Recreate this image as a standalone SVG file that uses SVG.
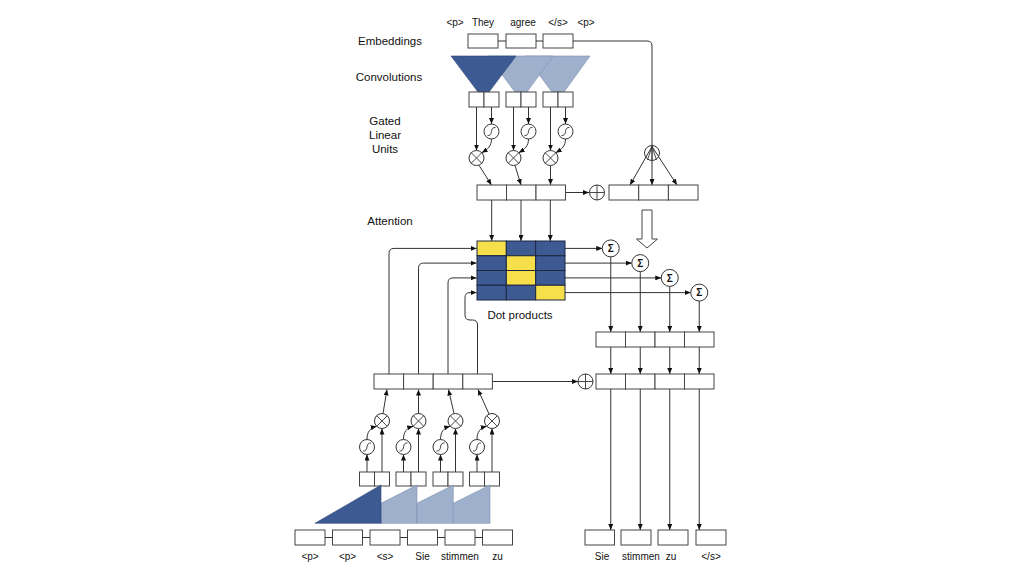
<svg xmlns="http://www.w3.org/2000/svg" xmlns:xlink="http://www.w3.org/1999/xlink" width="1024" height="575" viewBox="0 0 1024 575">
<style>
.box{fill:#fff;stroke:#444;stroke-width:1}
.ln{fill:none;stroke:#333;stroke-width:1}
.ar{marker-end:url(#ah)}
.op{fill:#fff;stroke:#333;stroke-width:1}
.opl{fill:none;stroke:#333;stroke-width:0.9}
.lbl{font-family:"Liberation Sans",Arial,sans-serif;font-size:11.5px;fill:#111;text-anchor:middle}
.tok{font-family:"Liberation Sans",Arial,sans-serif;font-size:10px;fill:#111;text-anchor:middle}
.sg{font-family:"Liberation Sans",Arial,sans-serif;font-size:10px;font-weight:bold;fill:#111;text-anchor:middle}
.dk{fill:#3d5a92;stroke:#2e477a;stroke-width:0.6}
.lt{fill:#9fb0cc;stroke:#7d8fb0;stroke-width:0.6}
.cb{fill:#3d5a92;stroke:#1d2740;stroke-width:1}
.cy{fill:#f7df4c;stroke:#1d2740;stroke-width:1}
</style>
<defs>
<marker id="ah" viewBox="0 0 6 5" refX="6" refY="2.5" markerWidth="6" markerHeight="5" markerUnits="userSpaceOnUse" orient="auto"><path d="M0,0 L6,2.5 L0,5 z" fill="#111"/></marker>
<g id="mul"><circle class="op" r="7.5"/><path class="opl" d="M-5.3,-5.3 L5.3,5.3 M-5.3,5.3 L5.3,-5.3"/></g>
<g id="add"><circle class="op" r="7.5"/><path class="opl" d="M-7.5,0 H7.5 M0,-7.5 V7.5"/></g>
<g id="sig"><circle class="op" r="7.5"/><path class="opl" d="M-4,4 Q-0.5,4.5 0,0 Q0.5,-4.5 4,-4"/></g>
<g id="sum"><circle class="op" r="8.5"/><text class="sg" y="3.6">Σ</text></g>
</defs>

<g id="labels">
<text class="lbl" x="390" y="44.5">Embeddings</text>
<text class="lbl" x="389" y="81">Convolutions</text>
<text class="lbl" x="385" y="124.5">Gated</text>
<text class="lbl" x="385" y="139">Linear</text>
<text class="lbl" x="385" y="152.5">Units</text>
<text class="lbl" x="390" y="225">Attention</text>
<text class="lbl" x="520" y="319">Dot products</text>
</g>

<g id="src-tokens">
<text class="tok" x="455" y="26">&lt;p&gt;</text>
<text class="tok" x="483" y="26">They</text>
<text class="tok" x="523" y="26">agree</text>
<text class="tok" x="558" y="26">&lt;/s&gt;</text>
<text class="tok" x="586" y="26">&lt;p&gt;</text>
</g>

<g id="enc-embeddings">
<rect class="box" x="468" y="34" width="30" height="14"/>
<rect class="box" x="506" y="34" width="30" height="14"/>
<rect class="box" x="543" y="34" width="30" height="14"/>
<path class="ln" d="M498,41 H506 M536,41 H543"/>
</g>

<g id="enc-conv">
<polygon class="lt" points="525,56 590,56 564,92 552,92"/>
<polygon class="lt" points="488,56 553,56 527,92 515,92"/>
<polygon class="dk" points="451,56 516,56 489,92 478,92"/>
</g>

<g id="enc-glu-boxes">
<rect class="box" x="469" y="92" width="15" height="15"/><rect class="box" x="484" y="92" width="15" height="15"/>
<rect class="box" x="506" y="92" width="15" height="15"/><rect class="box" x="521" y="92" width="15" height="15"/>
<rect class="box" x="543" y="92" width="15" height="15"/><rect class="box" x="558" y="92" width="15" height="15"/>
</g>

<g id="connectors">
<!-- encoder GLU -->
<path class="ln ar" d="M491.5,107 V124"/>
<path class="ln ar" d="M476.5,107 V150.5"/>
<path class="ln ar" d="M491.5,139 C491.5,146 488,149 481.8,152.7"/>
<path class="ln ar" d="M479,165.3 L491.5,185"/>
<path class="ln ar" d="M528.5,107 V124"/>
<path class="ln ar" d="M513.5,107 V150.5"/>
<path class="ln ar" d="M528.5,139 C528.5,146 525,149 518.8,152.7"/>
<path class="ln ar" d="M515,165.5 L521,185"/>
<path class="ln ar" d="M565.5,107 V124"/>
<path class="ln ar" d="M550.5,107 V150.5"/>
<path class="ln ar" d="M565.5,139 C565.5,146 562,149 555.8,152.7"/>
<path class="ln ar" d="M550.5,165.5 V185"/>
<!-- residual to add -->
<path class="ln ar" d="M565.5,192.5 H589"/>
<!-- embedding line to replicate -->
<path class="ln ar" d="M573,41 H647 Q652,41 652,46 V185"/>
<path class="ln ar" d="M652,146.5 L630,185"/>
<path class="ln ar" d="M652,146.5 L677,185"/>
<!-- encoder outputs to matrix -->
<path class="ln ar" d="M491.7,200 V241"/>
<path class="ln ar" d="M521,200 V241"/>
<path class="ln ar" d="M550.3,200 V241"/>
<!-- matrix rows to sums -->
<path class="ln ar" d="M565,248.4 H602.25"/>
<path class="ln ar" d="M565,263.1 H631.75"/>
<path class="ln ar" d="M565,277.9 H661.25"/>
<path class="ln ar" d="M565,292.6 H690.75"/>
<!-- sums down -->
<path class="ln ar" d="M610.75,256.9 V332"/>
<path class="ln ar" d="M640.25,271.6 V332"/>
<path class="ln ar" d="M669.75,286.4 V332"/>
<path class="ln ar" d="M699.25,301.1 V332"/>
<path class="ln ar" d="M610.75,347 V374"/>
<path class="ln ar" d="M640.25,347 V374"/>
<path class="ln ar" d="M669.75,347 V374"/>
<path class="ln ar" d="M699.25,347 V374"/>
<path class="ln ar" d="M610.75,389 V530"/>
<path class="ln ar" d="M640.25,389 V530"/>
<path class="ln ar" d="M669.75,389 V530"/>
<path class="ln ar" d="M699.25,389 V530"/>
<!-- decoder residual to add -->
<path class="ln ar" d="M492.4,381.5 H578"/>
<!-- decoder to attention -->
<path class="ln ar" d="M389,374 V253.4 Q389,248.4 394,248.4 H476.5"/>
<path class="ln ar" d="M418.5,374 V268.1 Q418.5,263.1 423.5,263.1 H476.5"/>
<path class="ln ar" d="M448,374 V282.9 Q448,277.9 453,277.9 H476.5"/>
<path class="ln ar" d="M477.5,374 V325 Q477.5,320 472.5,320 H470 Q465,320 465,315 V297.6 Q465,292.6 470,292.6 H476.5"/>
<!-- decoder GLU -->
<path class="ln ar" d="M367,472 V454.5"/>
<path class="ln ar" d="M382,472 V428.5"/>
<path class="ln ar" d="M367,439.5 C367,432 370,428 376.7,426.3"/>
<path class="ln ar" d="M383,413.5 L387,389.5"/>
<path class="ln ar" d="M403.5,472 V454.5"/>
<path class="ln ar" d="M418.5,472 V428.5"/>
<path class="ln ar" d="M403.5,439.5 C403.5,432 406.5,428 413.2,426.3"/>
<path class="ln ar" d="M418.5,413.5 V389.5"/>
<path class="ln ar" d="M440.5,472 V454.5"/>
<path class="ln ar" d="M455.5,472 V428.5"/>
<path class="ln ar" d="M440.5,439.5 C440.5,432 443.5,428 450.2,426.3"/>
<path class="ln ar" d="M454,413.5 L448.5,389.5"/>
<path class="ln ar" d="M477,472 V454.5"/>
<path class="ln ar" d="M492,472 V428.5"/>
<path class="ln ar" d="M477,439.5 C477,432 480,428 486.7,426.3"/>
<path class="ln ar" d="M489,414 L478,389.5"/>
</g>

<g id="enc-ops">
<use xlink:href="#sig" x="491.5" y="131.5"/>
<use xlink:href="#sig" x="528.5" y="131.5"/>
<use xlink:href="#sig" x="565.5" y="131.5"/>
<use xlink:href="#mul" x="476.5" y="158"/>
<use xlink:href="#mul" x="513.5" y="158"/>
<use xlink:href="#mul" x="550.5" y="158"/>
</g>

<g id="enc-out">
<rect class="box" x="477" y="185" width="29.5" height="15"/>
<rect class="box" x="506.5" y="185" width="29.5" height="15"/>
<rect class="box" x="536" y="185" width="29.5" height="15"/>
</g>

<g id="enc-add"><use xlink:href="#add" x="597" y="192.5"/></g>

<g id="enc-embed-copy">
<rect class="box" x="609" y="185" width="29.7" height="15"/>
<rect class="box" x="638.7" y="185" width="29.7" height="15"/>
<rect class="box" x="668.4" y="185" width="29.6" height="15"/>
</g>

<g id="replicate">
<circle class="op" cx="652" cy="153" r="7.5" fill-opacity="0"/>
<path class="opl" d="M652,146 V160.5 M652,146.5 L647.5,160 M652,146.5 L656.5,160"/>
</g>

<g id="hollow-arrow">
<polygon points="642,210 652,210 652,239 657.5,239 647,248 636.5,239 642,239" fill="#fff" stroke="#444" stroke-width="1"/>
</g>

<g id="dot-products">
<rect class="cy" x="477" y="241" width="29.33" height="14.75"/>
<rect class="cb" x="506.33" y="241" width="29.33" height="14.75"/>
<rect class="cb" x="535.67" y="241" width="29.33" height="14.75"/>
<rect class="cb" x="477" y="255.75" width="29.33" height="14.75"/>
<rect class="cy" x="506.33" y="255.75" width="29.33" height="14.75"/>
<rect class="cb" x="535.67" y="255.75" width="29.33" height="14.75"/>
<rect class="cb" x="477" y="270.5" width="29.33" height="14.75"/>
<rect class="cy" x="506.33" y="270.5" width="29.33" height="14.75"/>
<rect class="cb" x="535.67" y="270.5" width="29.33" height="14.75"/>
<rect class="cb" x="477" y="285.25" width="29.33" height="14.75"/>
<rect class="cb" x="506.33" y="285.25" width="29.33" height="14.75"/>
<rect class="cy" x="535.67" y="285.25" width="29.33" height="14.75"/>
</g>

<g id="sums">
<use xlink:href="#sum" x="610.75" y="248.4"/>
<use xlink:href="#sum" x="640.25" y="263.1"/>
<use xlink:href="#sum" x="669.75" y="277.9"/>
<use xlink:href="#sum" x="699.25" y="292.6"/>
</g>

<g id="context">
<rect class="box" x="596" y="332" width="29.5" height="15"/>
<rect class="box" x="625.5" y="332" width="29.5" height="15"/>
<rect class="box" x="655" y="332" width="29.5" height="15"/>
<rect class="box" x="684.5" y="332" width="29.5" height="15"/>
</g>

<g id="dec-add"><use xlink:href="#add" x="585.5" y="381.5"/></g>

<g id="combined">
<rect class="box" x="596" y="374" width="29.5" height="15"/>
<rect class="box" x="625.5" y="374" width="29.5" height="15"/>
<rect class="box" x="655" y="374" width="29.5" height="15"/>
<rect class="box" x="684.5" y="374" width="29.5" height="15"/>
</g>

<g id="outputs">
<rect class="box" x="585" y="530" width="29.5" height="15"/>
<rect class="box" x="621" y="530" width="30" height="15"/>
<rect class="box" x="658" y="530" width="30" height="15"/>
<rect class="box" x="696" y="530" width="30" height="15"/>
<text class="tok" x="602" y="560">Sie</text>
<text class="tok" x="641" y="560">stimmen</text>
<text class="tok" x="671" y="560">zu</text>
<text class="tok" x="711" y="560">&lt;/s&gt;</text>
</g>

<g id="dec-top">
<rect class="box" x="374" y="374" width="29.6" height="15"/>
<rect class="box" x="403.6" y="374" width="29.6" height="15"/>
<rect class="box" x="433.2" y="374" width="29.6" height="15"/>
<rect class="box" x="462.8" y="374" width="29.6" height="15"/>
</g>

<g id="dec-ops">
<use xlink:href="#sig" x="367" y="447"/>
<use xlink:href="#sig" x="403.5" y="447"/>
<use xlink:href="#sig" x="440.5" y="447"/>
<use xlink:href="#sig" x="477" y="447"/>
<use xlink:href="#mul" x="382" y="421"/>
<use xlink:href="#mul" x="418.5" y="421"/>
<use xlink:href="#mul" x="455.5" y="421"/>
<use xlink:href="#mul" x="492" y="421"/>
</g>

<g id="dec-glu-boxes">
<rect class="box" x="359.5" y="472" width="15" height="14"/><rect class="box" x="374.5" y="472" width="15" height="14"/>
<rect class="box" x="396" y="472" width="15" height="14"/><rect class="box" x="411" y="472" width="15" height="14"/>
<rect class="box" x="433" y="472" width="15" height="14"/><rect class="box" x="448" y="472" width="15" height="14"/>
<rect class="box" x="469.5" y="472" width="15" height="14"/><rect class="box" x="484.5" y="472" width="15" height="14"/>
</g>

<g id="dec-conv">
<polygon class="lt" points="381,503.3 417,485 417,523.3 381,523.3"/>
<polygon class="lt" points="417,503.3 453.3,485 453.3,523.3 417,523.3"/>
<polygon class="lt" points="453.3,503.3 490,485 490,523.3 453.3,523.3"/>
<polygon class="dk" points="315,523.3 381,485 381,523.3"/>
</g>

<g id="dec-embeddings">
<rect class="box" x="295" y="530" width="30" height="15"/>
<rect class="box" x="332.5" y="530" width="30" height="15"/>
<rect class="box" x="370" y="530" width="30" height="15"/>
<rect class="box" x="407.5" y="530" width="30" height="15"/>
<rect class="box" x="445" y="530" width="30" height="15"/>
<rect class="box" x="482.5" y="530" width="30" height="15"/>
<path class="ln" d="M325,537.5 H332.5 M362.5,537.5 H370 M400,537.5 H407.5 M437.5,537.5 H445 M475,537.5 H482.5"/>
<text class="tok" x="310" y="560">&lt;p&gt;</text>
<text class="tok" x="347.5" y="560">&lt;p&gt;</text>
<text class="tok" x="385" y="560">&lt;s&gt;</text>
<text class="tok" x="422.5" y="560">Sie</text>
<text class="tok" x="460" y="560">stimmen</text>
<text class="tok" x="497.5" y="560">zu</text>
</g>
</svg>
